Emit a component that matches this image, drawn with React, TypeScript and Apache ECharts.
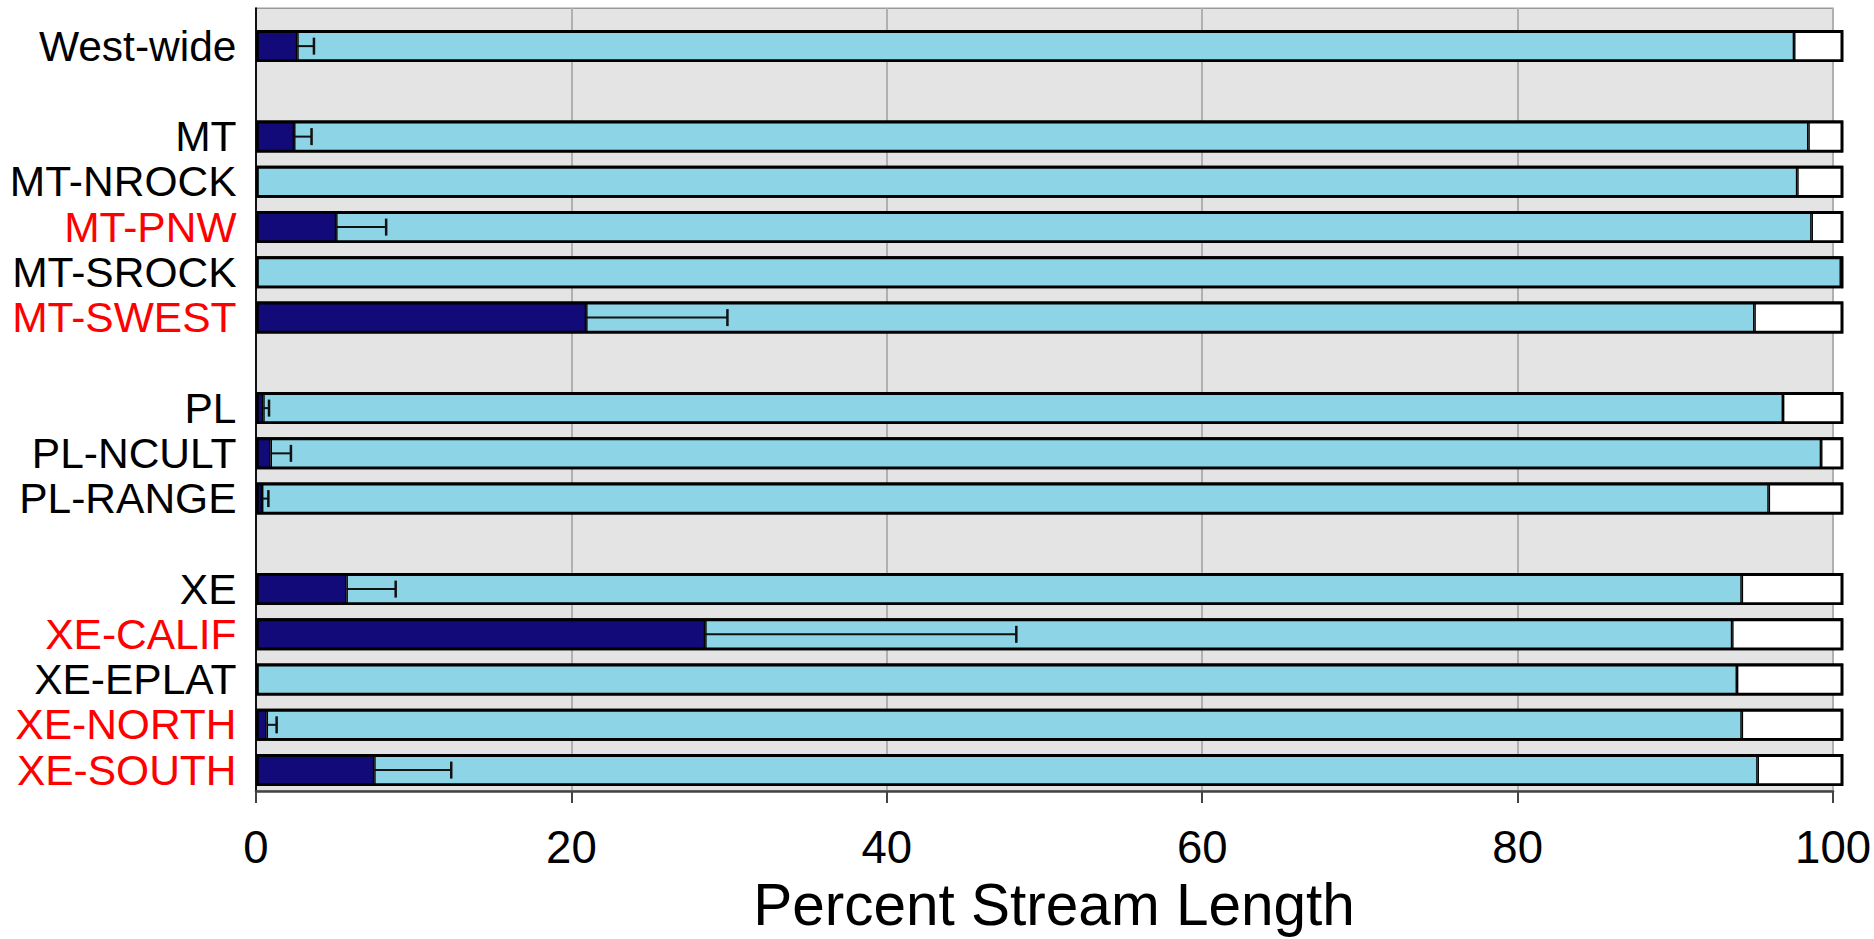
import React, { useEffect, useRef } from 'react';
import * as echarts from 'echarts';

// Categories (blank entries are the spacer rows between groups)
const categories = [
  'West-wide', ' ',
  'MT', 'MT-NROCK', 'MT-PNW', 'MT-SROCK', 'MT-SWEST', '  ',
  'PL', 'PL-NCULT', 'PL-RANGE', '   ',
  'XE', 'XE-CALIF', 'XE-EPLAT', 'XE-NORTH', 'XE-SOUTH',
];
const redCategories = ['MT-PNW', 'MT-SWEST', 'XE-CALIF', 'XE-NORTH', 'XE-SOUTH'];

// Dark (navy) segment: percent of stream length
const darkValues = [2.6, null, 2.4, null, 5.05, null, 20.8, null, 0.46, 0.92, 0.38, null, 5.7, 28.3, null, 0.67, 7.45];
// Cumulative end of the light-blue segment
const lightEndValues = [96.9, null, 97.8, 97.1, 98.0, 99.85, 94.4, null, 96.2, 98.6, 95.3, null, 93.6, 93.0, 93.3, 93.6, 94.6];
// Upper end of the error bar on the dark segment
const errorUpper = [3.65, null, 3.5, null, 8.2, null, 29.7, null, 0.82, 2.2, 0.78, null, 8.8, 47.9, null, 1.3, 12.3];

const xMin = 0;
const xMax = 100;
const xInterval = 20;
const axisTitle = 'Percent Stream Length';

const FONT = '"Liberation Sans", Arial, Helvetica, sans-serif';

export default function App() {
  const ref = useRef<HTMLDivElement>(null);

  useEffect(() => {
    if (!ref.current) return;
    const chart = echarts.init(ref.current, undefined, { renderer: 'svg' });

    const lightSeg = lightEndValues.map((e, i) => (e == null ? null : +(e - (darkValues[i] ?? 0)).toFixed(3)));
    const whiteSeg = lightEndValues.map((e) => (e == null ? null : +(xMax - e).toFixed(3)));
    const outline = lightEndValues.map((e) => (e == null ? null : xMax));
    const errData = errorUpper
      .map((u, i) => (u == null ? null : [darkValues[i] ?? 0, u, i]))
      .filter((d) => d != null);

    const BAR_W = 32;
    const segStyle = (color: string) => ({
      color,
      borderColor: '#000',
      borderWidth: 1.4,
    });

    const gridLeft = 256;
    const gridRight = 1874 - 1843.3;

    chart.setOption({
      animation: false,
      textStyle: { fontFamily: FONT },
      grid: [
        {
          left: gridLeft,
          right: gridRight,
          top: 8.3,
          bottom: 939 - 813.3,
          show: true,
          backgroundColor: '#E4E4E4',
          borderColor: '#9A9A9A',
          borderWidth: 1.5,
        },
        {
          left: gridLeft,
          right: gridRight,
          top: 23.5,
          bottom: 939 - 792.7,
          show: false,
        },
      ],
      xAxis: [
        {
          gridIndex: 0,
          type: 'value',
          min: xMin,
          max: xMax,
          interval: xInterval,
          axisLine: { show: true, lineStyle: { color: '#444', width: 2.5 } },
          axisTick: { show: true, length: 12, lineStyle: { color: '#444', width: 2 } },
          splitLine: { show: true, lineStyle: { color: '#B0B0B0', width: 2 } },
          axisLabel: { fontSize: 45.5, color: '#000', margin: 33, fontFamily: FONT },
          name: axisTitle,
          nameLocation: 'middle',
          nameGap: 83,
          nameTextStyle: { fontSize: 58.5, color: '#000', fontFamily: FONT, padding: [0, 0, 0, 19] },
        },
        {
          gridIndex: 1,
          type: 'value',
          min: xMin,
          max: xMax,
          show: false,
        },
      ],
      yAxis: [
        {
          gridIndex: 0,
          type: 'value',
          min: 0,
          max: 1,
          axisLine: { show: true, lineStyle: { color: '#111', width: 2 } },
          axisTick: { show: false },
          axisLabel: { show: false },
          splitLine: { show: false },
        },
        {
          gridIndex: 1,
          type: 'category',
          data: categories,
          inverse: true,
          axisLine: { show: false },
          axisTick: { show: false },
          splitLine: { show: false },
          axisLabel: {
            interval: 0,
            fontSize: 42.5,
            margin: 19.5,
            fontFamily: FONT,
            color: (value: string) => (redCategories.includes(value) ? '#FF0000' : '#000000'),
          },
        },
      ],
      series: [
        {
          name: 'dark',
          type: 'bar',
          xAxisIndex: 1,
          yAxisIndex: 1,
          stack: 'total',
          barWidth: BAR_W,
          clip: false,
          itemStyle: segStyle('#120A78'),
          data: darkValues,
        },
        {
          name: 'light',
          type: 'bar',
          xAxisIndex: 1,
          yAxisIndex: 1,
          stack: 'total',
          barWidth: BAR_W,
          clip: false,
          itemStyle: segStyle('#8CD4E6'),
          data: lightSeg,
        },
        {
          name: 'white',
          type: 'bar',
          xAxisIndex: 1,
          yAxisIndex: 1,
          stack: 'total',
          barWidth: BAR_W,
          clip: false,
          itemStyle: segStyle('#FFFFFF'),
          data: whiteSeg,
        },
        {
          name: 'outline',
          type: 'bar',
          xAxisIndex: 1,
          yAxisIndex: 1,
          barWidth: BAR_W,
          barGap: '-100%',
          clip: false,
          z: 5,
          silent: true,
          itemStyle: { color: 'rgba(0,0,0,0)', borderColor: '#000', borderWidth: 2.8 },
          data: outline,
        },
        {
          name: 'error',
          type: 'custom',
          xAxisIndex: 1,
          yAxisIndex: 1,
          clip: false,
          z: 10,
          encode: { x: [0, 1], y: 2 },
          data: errData,
          renderItem: (params: any, api: any) => {
            const yIdx = api.value(2);
            const start = api.coord([api.value(0), yIdx]);
            const end = api.coord([api.value(1), yIdx]);
            const half = 8.5;
            return {
              type: 'group',
              children: [
                {
                  type: 'line',
                  shape: { x1: start[0], y1: start[1], x2: end[0], y2: end[1] },
                  style: { stroke: '#111', lineWidth: 2 },
                },
                {
                  type: 'line',
                  shape: { x1: end[0], y1: end[1] - half, x2: end[0], y2: end[1] + half },
                  style: { stroke: '#111', lineWidth: 2.5 },
                },
              ],
            };
          },
        },
      ],
    });

    return () => chart.dispose();
  }, []);

  return (
    <div
      ref={ref}
      style={{ position: 'fixed', left: 0, top: 0, width: '1874px', height: '939px', background: '#fff' }}
    />
  );
}
